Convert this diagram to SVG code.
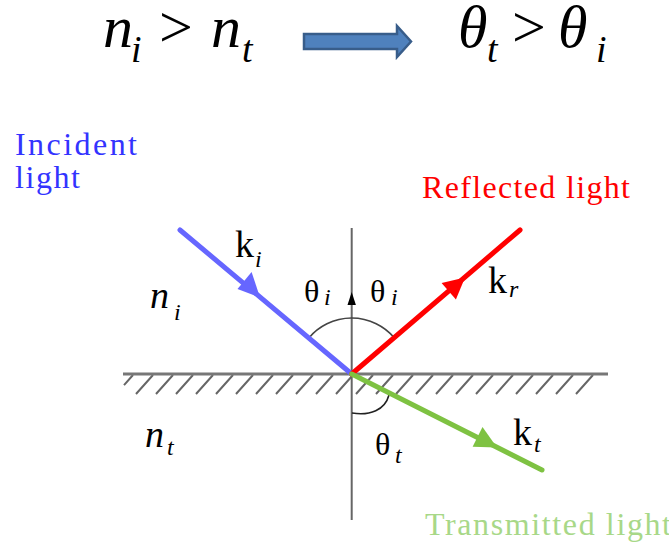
<svg xmlns="http://www.w3.org/2000/svg" width="669" height="542" viewBox="0 0 669 542">
<style>
.hatch{stroke:#666;stroke-width:2;fill:none}
.ray{fill:none;stroke-width:5;stroke-linecap:round}
</style>
<rect width="669" height="542" fill="#fff"/>

<g id="equation" fill="#000" font-family="'Liberation Serif', 'Times New Roman', serif">
<text x="103" y="47" font-size="60" font-style="italic">n</text>
<text x="131" y="62" font-size="38" font-style="italic">i</text>
<text x="159" y="47" font-size="60">&gt;</text>
<text x="211" y="47" font-size="60" font-style="italic">n</text>
<text x="242" y="62" font-size="38" font-style="italic">t</text>
<polygon points="304,34 397,34 397,26 411,41.5 397,57 397,49 304,49" fill="#4f81bd" stroke="#385d8a" stroke-width="2.5"/>
<text x="458" y="47" font-size="60" font-style="italic">θ</text>
<text x="487" y="62" font-size="38" font-style="italic">t</text>
<text x="512" y="47" font-size="60">&gt;</text>
<text x="558" y="47" font-size="60" font-style="italic">θ</text>
<text x="596" y="62" font-size="38" font-style="italic">i</text>
</g>

<g id="interface">
<path class="hatch" d="M133 375l-9 10.1M153 375l-17 19M173 375l-17 19M193 375l-17 19M213 375l-17 19M233 375l-17 19M253 375l-17 19M273 375l-17 19M293 375l-17 19M313 375l-17 19M333 375l-17 19M353 375l-17 19M373 375l-17 19M393 375l-17 19M413 375l-17 19M433 375l-17 19M453 375l-17 19M473 375l-17 19M493 375l-17 19M513 375l-17 19M533 375l-17 19M553 375l-17 19M573 375l-17 19M593 375l-17 19"/>
<line x1="123" y1="374" x2="608" y2="374" stroke="#777" stroke-width="3"/>
</g>

<g id="normal">
<line x1="351.7" y1="228" x2="351.7" y2="520" stroke="#666" stroke-width="2"/>
<polygon points="351.7,292 347.5,305 355.9,305" fill="#000"/>
</g>

<g id="angles" fill="none" stroke-width="1.6">
<path d="M308.9 337.9 A56 56 0 0 1 394.3 337.7" stroke="#444"/>
<path d="M352 413 C370 416 385 410 389 395" stroke="#222"/>
</g>

<g id="connectors">
<path id="incident-ray" class="ray" stroke="#6666ff" d="M180 230 L351.7 374"/>
<polygon points="260,297.4 237.5,288.9 251.6,272" fill="#6666ff"/>
<path id="reflected-ray" class="ray" stroke="#ff0000" d="M351.7 374 L520 230"/>
<polygon points="465,277.4 455.9,299.6 441.6,282.9" fill="#ff0000"/>
<path id="transmitted-ray" class="ray" stroke="#7ec242" d="M351.7 374 L542 470"/>
<polygon points="497,447.4 472.6,446.8 482.5,427.1" fill="#7ec242"/>
</g>

<g id="labels" fill="#000" font-family="'Liberation Serif', 'Times New Roman', serif">
<text x="15" y="155" fill="#3333ff" font-size="32" textLength="122" lengthAdjust="spacing">Incident</text>
<text x="15" y="188" fill="#3333ff" font-size="32" textLength="65" lengthAdjust="spacing">light</text>
<text x="422" y="198" fill="#ff0000" font-size="32" textLength="208" lengthAdjust="spacing">Reflected light</text>
<text x="425" y="535" fill="#a8d888" font-size="32" textLength="246" lengthAdjust="spacing">Transmitted light</text>

<text x="235" y="257" font-size="38">k</text>
<text x="255" y="267" font-size="24" font-style="italic">i</text>
<text x="488" y="293" font-size="38">k</text>
<text x="509" y="297" font-size="24" font-style="italic">r</text>
<text x="513" y="445" font-size="38">k</text>
<text x="534" y="452" font-size="24" font-style="italic">t</text>

<text x="304" y="302" font-size="32">θ</text>
<text x="324" y="305" font-size="24" font-style="italic">i</text>
<text x="370" y="302" font-size="32">θ</text>
<text x="391" y="305" font-size="24" font-style="italic">i</text>
<text x="375" y="455" font-size="32">θ</text>
<text x="395" y="463" font-size="24" font-style="italic">t</text>

<text x="150" y="308" font-size="38" font-style="italic">n</text>
<text x="174" y="320" font-size="24" font-style="italic">i</text>
<text x="145" y="447" font-size="38" font-style="italic">n</text>
<text x="167" y="455" font-size="24" font-style="italic">t</text>
</g>
</svg>
